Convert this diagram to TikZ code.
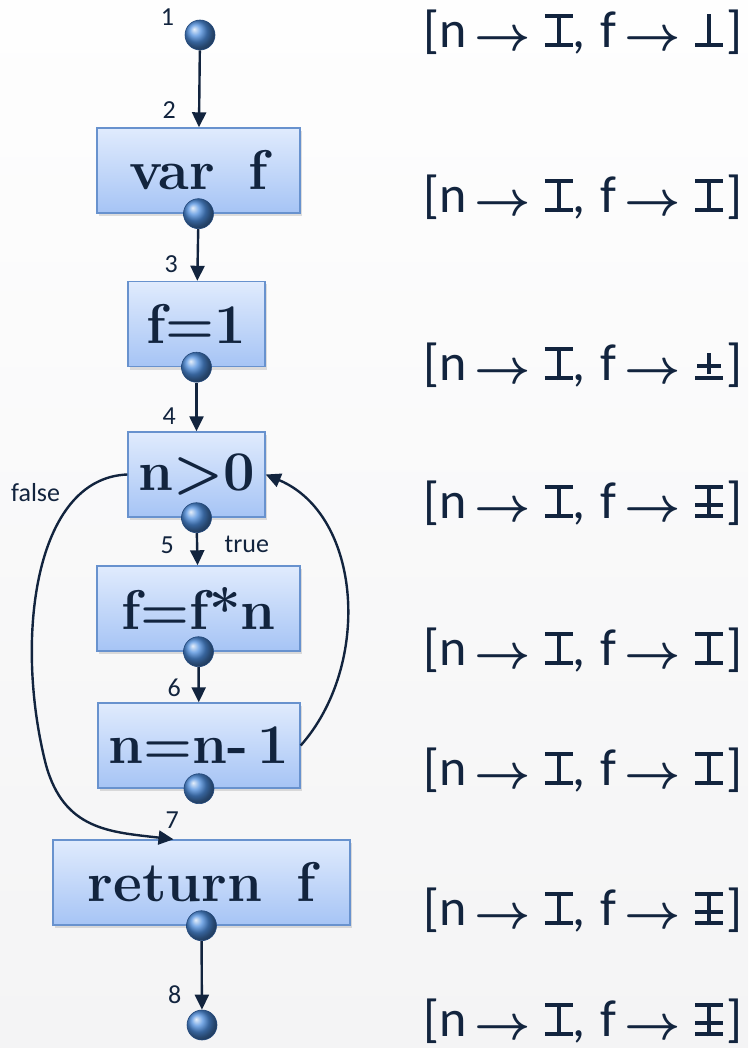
\RequirePackage{fix-cm}
\documentclass[tikz,border=0pt]{standalone}
\usepackage{fontspec}
\usepackage{tikz}
\usetikzlibrary{arrows.meta,positioning,calc,shadows}
\newfontfamily\lblfont{Carlito}
\definecolor{ink}{RGB}{18,36,62}
\definecolor{boxtop}{RGB}{224,235,253}
\definecolor{boxbot}{RGB}{166,196,245}
\definecolor{boxedge}{RGB}{104,146,206}
\definecolor{knobblue}{RGB}{78,142,222}
\definecolor{knobedge}{RGB}{34,72,124}
\definecolor{bgtop}{RGB}{254,254,254}
\definecolor{bgbot}{RGB}{244,244,245}

% lattice values drawn from rules
\newcommand{\lvTop}{\makebox[28pt][l]{\rule{28pt}{4pt}\hspace{-28pt}\raisebox{29pt}{\rule{28pt}{4pt}}\hspace{-16pt}\rule{4pt}{33pt}}}
\newcommand{\lvBot}{\makebox[28pt][l]{\rule{28pt}{4pt}\hspace{-16pt}\rule{4pt}{33pt}}}
\newcommand{\lvPm}{\makebox[28pt][l]{\rule{28pt}{4pt}\hspace{-26pt}\raisebox{12pt}{\rule{24pt}{4pt}}\hspace{-14pt}\raisebox{6pt}{\rule{4pt}{21pt}}}}
\newcommand{\lvAll}{\makebox[28pt][l]{\rule{28pt}{4pt}\hspace{-28pt}\raisebox{11pt}{\rule{28pt}{4pt}}\hspace{-28pt}\raisebox{29pt}{\rule{28pt}{4pt}}\hspace{-16pt}\rule{4pt}{33pt}}}
\newcommand{\maps}{\hspace{8pt}{\fontsize{49}{49}\selectfont\boldmath\raisebox{-3pt}{$\rightarrow$}}\hspace{14pt}}
\newcommand{\fstate}[1]{[n\maps\lvTop,\hspace{15pt}f\maps#1\hspace{3pt}]}

\begin{document}
\begin{tikzpicture}[x=1pt, y=-1pt,
  stmt/.style={draw=boxedge, line width=1.4pt, top color=boxtop, bottom color=boxbot,
               drop shadow={opacity=0.25, shadow xshift=2pt, shadow yshift=-3pt},
               minimum height=85pt, inner sep=0pt, text=ink,
               font=\fontsize{56}{60}\selectfont\bfseries},
  ppoint/.style={circle, minimum size=30pt, inner sep=0pt, draw=knobedge,
                 line width=0.6pt, shading=ball, ball color=knobblue},
  arr/.style={-{Triangle[length=15pt,width=14pt]}, line width=2.4pt, draw=ink},
  num/.style={text=ink, inner sep=1pt, font=\lblfont\fontsize{26}{28}\selectfont},
  fact/.style={text=ink, inner sep=0pt, anchor=west, font=\lblfont\fontsize{52}{56}\selectfont}
]
\fill[top color=bgtop, bottom color=bgbot] (0,0) rectangle (748,1048);
\useasboundingbox (0,0) rectangle (748,1048);

% statements
\node[stmt, minimum width=203pt] (vardecl) at (198.5,170.5) {var\hspace{0.6em}f};
\node[stmt, minimum width=137pt] (finit) at (196.5,324) {f=1};
\node[stmt, minimum width=137pt] (cond) at (196.5,474.5) {n>0};
\node[stmt, minimum width=203pt] (mult) at (198.5,608.5) {f=f*n};
\node[stmt, minimum width=202pt] (decr) at (199,745.5) {n=n-\,1};
\node[stmt, minimum width=297pt] (ret) at (201.5,882.5) {return\hspace{0.6em}f};

% program points
\node[ppoint] (start) at (200,35) {};
\node[ppoint] (pvar) at (vardecl.south) {};
\node[ppoint] (pinit) at (finit.south) {};
\node[ppoint] (pcond) at (cond.south) {};
\node[ppoint] (pmult) at (mult.south) {};
\node[ppoint] (pdecr) at (decr.south) {};
\node[ppoint] (pret) at (ret.south) {};
\node[ppoint] (stop) at (202,1025) {};

% edges
\draw[arr] (start) -- (vardecl);
\draw[arr] (pvar) -- (finit);
\draw[arr] (pinit) -- (cond);
\draw[arr] (pcond) -- (mult);
\draw[arr] (pmult) -- (decr);
\draw[arr] (pret) -- (stop);
\coordinate (falseend) at ($(ret.north)+(-28,0)$);
\draw[arr] (cond.west) .. controls (34,478) and (14,640) .. (46,765)
                       .. controls (64,830) and (110,832) .. (falseend);
\draw[arr] (decr.east) .. controls (372,665) and (362,515) .. (cond.east);

% point numbers
\node[num, above left=-2.5pt and 14pt of start] (l1) {1};
\node[num, above left=7.5pt and 21.5pt of vardecl.north] (l2) {2};
\node[num, above left=6.5pt and 17.5pt of finit.north] (l3) {3};
\node[num, above left=5.5pt and 19.5pt of cond.north] (l4) {4};
\node[num, above left=10.5pt and 23.5pt of mult.north] (l5) {5};
\node[num, above left=4.5pt and 17pt of decr.north] (l6) {6};
\node[num, above left=9.5pt and 21.5pt of ret.north] (l7) {7};
\node[num, above left=9.3pt and 8.8pt of stop] (l8) {8};
\node[num, above right=11pt and 25pt of mult.north] (ltrue) {true};
\node[num, below left=8pt and 66pt of cond.west] (lfalse) {false};

% abstract states
\node[fact] (s1) at (423,32) {\fstate{\lvBot}};
\node[fact] (s2) at (423,197) {\fstate{\lvTop}};
\node[fact] (s3) at (423,365) {\fstate{\lvPm}};
\node[fact] (s4) at (423,503) {\fstate{\lvAll}};
\node[fact] (s5) at (423,650) {\fstate{\lvTop}};
\node[fact] (s6) at (423,770) {\fstate{\lvTop}};
\node[fact] (s7) at (423,910) {\fstate{\lvAll}};
\node[fact] (s8) at (423,1021) {\fstate{\lvAll}};
\end{tikzpicture}
\end{document}
